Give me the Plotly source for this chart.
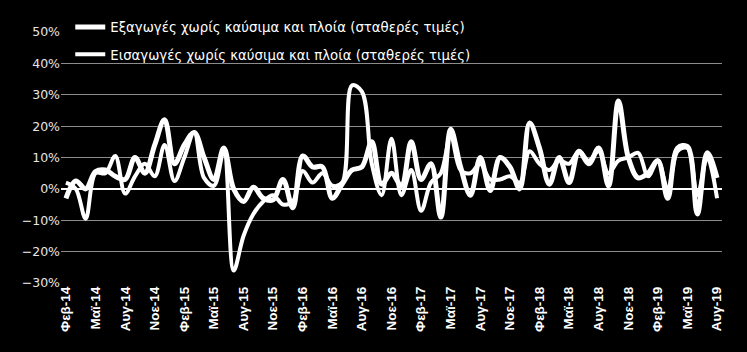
import plotly.graph_objects as go

months = ["Φεβ", "Μαρ", "Απρ", "Μαϊ", "Ιουν", "Ιουλ", "Αυγ", "Σεπ", "Οκτ", "Νοε", "Δεκ", "Ιαν"]
# monthly categories Feb-14 .. Aug-19
categories = []
y, m = 14, 0
for k in range(67):
    categories.append(f"{months[m]}-{y}")
    m = (m + 1) % 12
    if months[m] == "Ιαν":
        y += 1

exports = [-3, 2.5, 0, 5.5, 6, 4, 3, 10, 5, 14,
           22, 8, 14, 18, 10, 3, 13, 0, -4, 0.5,
           -3, -3.5, 3, -6, 10.5, 7, 7, -3, 1.5, 6,
           7, 15, 1.5, 5, 1, 15, 3, 8, -9, 19,
           7, -2, 10, -0.5, 10, 7, 0, 21, 13, 1.5,
           10, 2, 12, 8, 13, 1, 28, 10, 3.5, 5,
           9, -3, 13, 13.5, -8, 11.5, 3.5]
imports = [2, 0, -9.5, 5, 5, 10.5, -1.5, 4, 8, 4,
           14, 2.5, 10, 18, 3.5, 1, 12, -26, -15, -8,
           -4, -2, -5, -4, 5.7, 2, 5, 1, 2, 33,
           31, 8, -2, 16, -2, 6, -7, 2, 5, 17,
           6, 5, 8, 3, 3, 4, 2, 12, 8, 6,
           9, 8, 12, 9, 12, 5, 9, 10, 11.5, 4,
           9, 0, 12, 13, -2, 10, -3]

names = ["Εξαγωγές χωρίς καύσιμα και πλοία (σταθερές τιμές)",
         "Εισαγωγές χωρίς καύσιμα και πλοία (σταθερές τιμές)"]

tick_idx = list(range(0, 67, 3))
tick_text = [categories[i] for i in tick_idx]
x = list(range(67))

fig = go.Figure()
fig.add_trace(go.Scatter(x=x, y=[v / 100 for v in exports], name=names[0], mode="lines",
                         line=dict(color="white", width=5, shape="spline", smoothing=1),
                         legendgroup="a"))
fig.add_trace(go.Scatter(x=x, y=[v / 100 for v in imports], name=names[1], mode="lines",
                         line=dict(color="white", width=4, shape="spline", smoothing=1),
                         legendgroup="b"))

fig.update_layout(
    width=747, height=352,
    margin=dict(l=61, r=25, t=30, b=69),
    paper_bgcolor="black", plot_bgcolor="black",
    font=dict(family="DejaVu Sans, sans-serif", color="white", size=13),
    showlegend=True,
    legend=dict(x=0.014, y=1.08, xanchor="left", yanchor="top",
                bgcolor="rgba(0,0,0,0)", font=dict(size=13.3, color="white", family="DejaVu Sans, sans-serif"),
                tracegroupgap=7),
    xaxis=dict(range=[-0.5, 66.5], tickmode="array", tickvals=tick_idx, ticktext=tick_text,
               tickangle=-90, showgrid=False, zeroline=False, showline=False,
               tickfont=dict(size=13.5, color="white", family="Liberation Sans, Arial, sans-serif",
                             weight="bold"),
               ticks=""),
    yaxis=dict(range=[-0.3, 0.5], dtick=0.1, tickformat=".0%", showgrid=True,
               gridcolor="#8c8c8c", gridwidth=1, zeroline=True, zerolinecolor="white",
               zerolinewidth=2, tickfont=dict(size=12.5, color="#e6e6e6", family="DejaVu Sans, sans-serif"),
               ticks=""),
)

fig.write_html("out.html")
